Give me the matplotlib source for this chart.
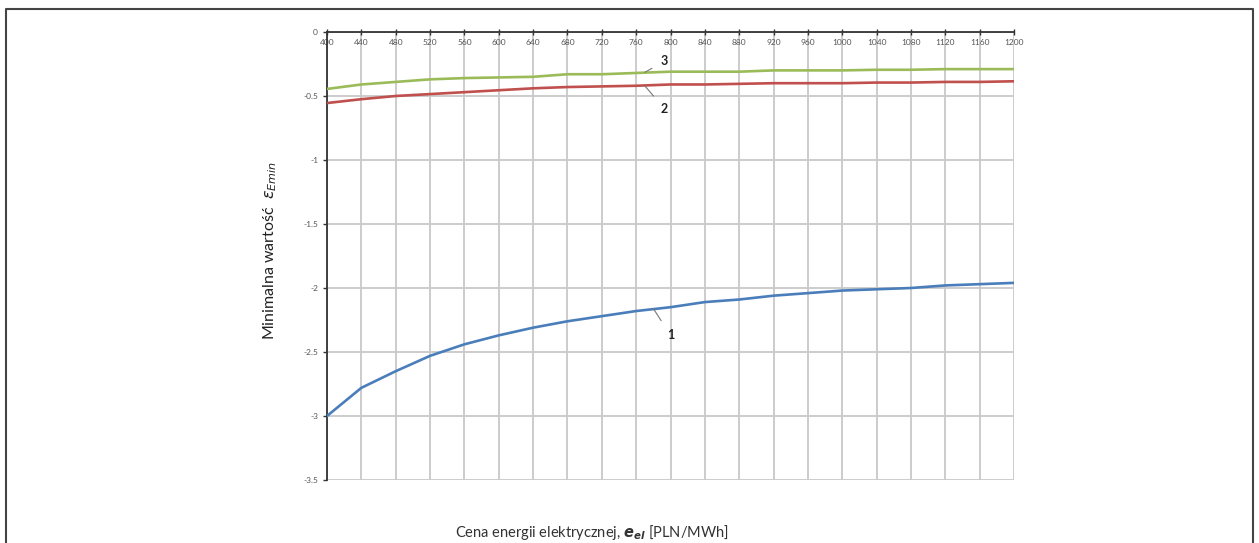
import matplotlib.pyplot as plt
from matplotlib.lines import Line2D

# cena energii elektrycznej [PLN/MWh]
price = [400, 440, 480, 520, 560, 600, 640, 680, 720, 760, 800,
         840, 880, 920, 960, 1000, 1040, 1080, 1120, 1160, 1200]

curve1 = [-3.00, -2.78, -2.65, -2.53, -2.44, -2.37, -2.31, -2.26, -2.22, -2.18, -2.15,
          -2.11, -2.09, -2.06, -2.04, -2.02, -2.01, -2.00, -1.98, -1.97, -1.96]
curve2 = [-0.555, -0.525, -0.50, -0.485, -0.47, -0.455, -0.44, -0.43, -0.425, -0.42, -0.41,
          -0.41, -0.405, -0.40, -0.40, -0.40, -0.395, -0.395, -0.39, -0.39, -0.385]
curve3 = [-0.445, -0.41, -0.39, -0.37, -0.36, -0.355, -0.35, -0.33, -0.33, -0.32, -0.31,
          -0.31, -0.31, -0.30, -0.30, -0.30, -0.295, -0.295, -0.29, -0.29, -0.29]

yticks = [0, -0.5, -1, -1.5, -2, -2.5, -3, -3.5]

plt.rcParams['font.family'] = ['Lato', 'DejaVu Sans']

W, H = 1259, 543
fig = plt.figure(figsize=(W / 100, H / 100), dpi=100)
ax = fig.add_axes([327 / W, 1 - 480 / H, (1014 - 327) / W, (480 - 32) / H])

ax.plot(price, curve1, color='#4a7ebb', lw=1.9, zorder=3)
ax.plot(price, curve2, color='#c0504d', lw=1.9, zorder=3)
ax.plot(price, curve3, color='#9bbb59', lw=1.9, zorder=3)

ax.set_xlim(400, 1200)
ax.set_ylim(-3.5, 0)
ax.set_xticks(price)
ax.set_yticks(yticks)
ax.set_yticklabels(['%g' % v for v in yticks])
ax.grid(True, color='#c8c8c8', lw=1.3, zorder=0)

ax.xaxis.set_ticks_position('top')
ax.tick_params(axis='x', direction='inout', length=4, width=1, color='#333333',
               pad=-12, labelsize=6, labelcolor='#555555')
ax.tick_params(axis='y', direction='out', length=3, width=1, color='#333333',
               labelsize=6, labelcolor='#555555')
for s in ['bottom', 'right']:
    ax.spines[s].set_visible(False)
for s in ['top', 'left']:
    ax.spines[s].set_color('#333333')
    ax.spines[s].set_linewidth(1.3)

# numery krzywych
kw = dict(fontsize=9, fontweight='bold', color='#222222', ha='center', va='center',
          arrowprops=dict(arrowstyle='-', color='#777777', lw=0.8, shrinkA=5, shrinkB=0))
ax.annotate('3', xy=(770, -0.315), xytext=(793, -0.23), **kw)
ax.annotate('2', xy=(770, -0.42), xytext=(793, -0.60), **kw)
ax.annotate('1', xy=(780, -2.16), xytext=(800, -2.37), **kw)

fig.text(270 / W, 1 - 250 / H, r'Minimalna wartość  $\varepsilon_{Emin}$', rotation=90,
         ha='center', va='center', fontsize=11.5, color='#222222')
fig.text(592 / W, 1 - 533 / H,
         r'Cena energii elektrycznej, $\mathbfit{e}_{\mathbfit{el}}$ [PLN/MWh]',
         ha='center', va='center', fontsize=10.5, color='#333333')

# ramka wokół rysunku
fig.add_artist(Line2D([6 / W, 6 / W, 1253 / W, 1253 / W], [0, 1 - 9 / H, 1 - 9 / H, 0],
                      color='#444444', lw=1.5))

fig.savefig('out.png', dpi=100)
